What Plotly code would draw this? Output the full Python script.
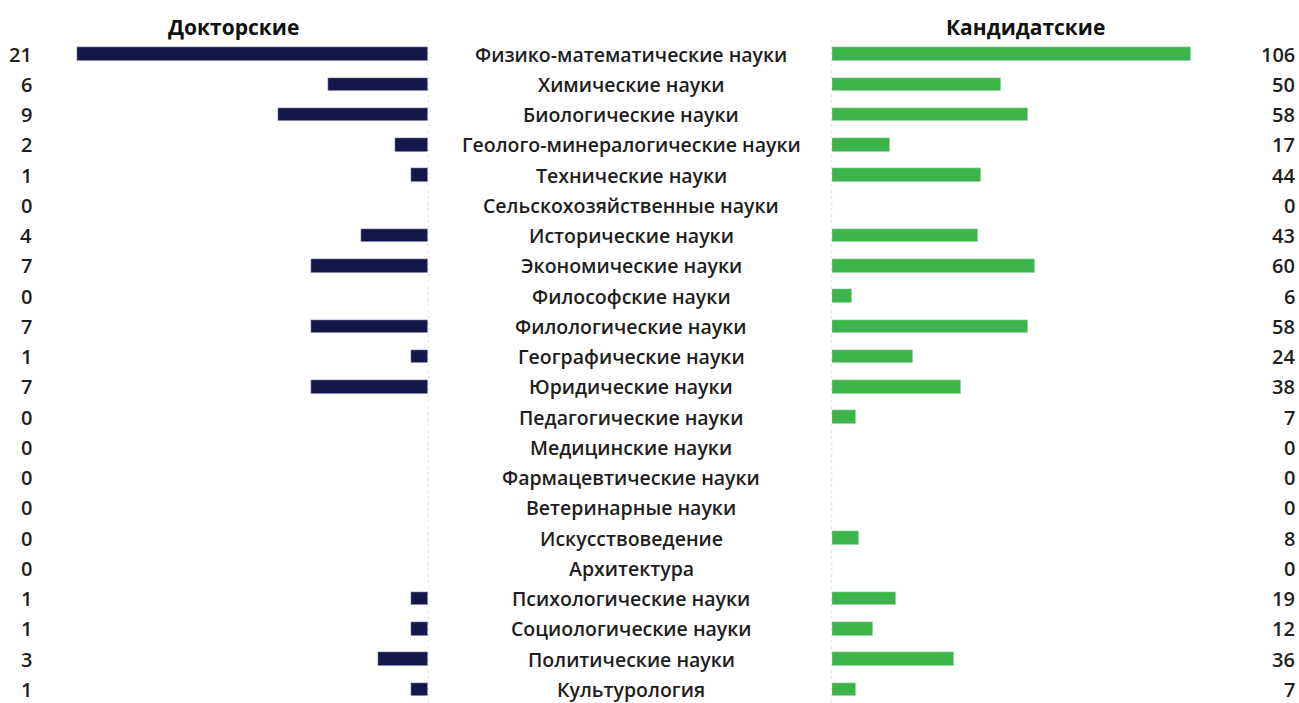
import plotly.graph_objects as go

categories = [
    "Физико-математические науки", "Химические науки", "Биологические науки",
    "Геолого-минералогические науки", "Технические науки", "Сельскохозяйственные науки",
    "Исторические науки", "Экономические науки", "Философские науки",
    "Филологические науки", "Географические науки", "Юридические науки",
    "Педагогические науки", "Медицинские науки", "Фармацевтические науки",
    "Ветеринарные науки", "Искусствоведение", "Архитектура",
    "Психологические науки", "Социологические науки", "Политические науки",
    "Культурология",
]
doctoral = [21, 6, 9, 2, 1, 0, 4, 7, 0, 7, 1, 7, 0, 0, 0, 0, 0, 0, 1, 1, 3, 1]
candidate = [106, 50, 58, 17, 44, 0, 43, 60, 6, 58, 24, 38, 7, 0, 0, 0, 8, 0, 19, 12, 36, 7]

W, H = 1299, 703
ypos = list(range(len(categories)))
FONT = "Open Sans"
NAVY = "#15164a"
GREEN = "#3cb44a"

fig = go.Figure()
fig.add_trace(go.Bar(x=doctoral, y=ypos, orientation="h", marker_color=NAVY,
                     width=0.44, xaxis="x", yaxis="y", showlegend=False))
fig.add_trace(go.Bar(x=candidate, y=ypos, orientation="h", marker_color=GREEN,
                     width=0.44, xaxis="x2", yaxis="y", showlegend=False))

top = 39
plot_h = H - top
row_h = 30.25
span = plot_h / row_h

ann = []
for i, (c, d, k) in enumerate(zip(categories, doctoral, candidate)):
    ann.append(dict(x=631 / W, y=i, xref="paper", yref="y", text=c, showarrow=False,
                    xanchor="center", yanchor="middle",
                    font=dict(family=FONT, size=19.5, color="#1e1e1e", weight=600)))
    ann.append(dict(x=34 / W, y=i, xref="paper", yref="y", text=str(d), showarrow=False,
                    xanchor="right", yanchor="middle",
                    font=dict(family=FONT, size=20, color="#1e1e1e", weight=600)))
    ann.append(dict(x=1297 / W, y=i, xref="paper", yref="y", text=str(k), showarrow=False,
                    xanchor="right", yanchor="middle",
                    font=dict(family=FONT, size=20, color="#1e1e1e", weight=600)))
title_y = 1 + (top - 27) / plot_h
ann.append(dict(x=233 / W, y=title_y, xref="paper", yref="paper", text="<b>Докторские</b>",
                showarrow=False, xanchor="center", yanchor="middle",
                font=dict(family=FONT, size=21, color="#111")))
ann.append(dict(x=1025 / W, y=title_y, xref="paper", yref="paper", text="<b>Кандидатские</b>",
                showarrow=False, xanchor="center", yanchor="middle",
                font=dict(family=FONT, size=21, color="#111")))

fig.update_layout(
    width=W, height=H,
    margin=dict(l=0, r=0, t=top, b=0),
    paper_bgcolor="white", plot_bgcolor="white",
    bargap=0,
    xaxis=dict(domain=[0, 428 / W], range=[428 / 16.72, 0], visible=False, fixedrange=True),
    xaxis2=dict(domain=[832 / W, 1], range=[0, (W - 832) / 3.387], visible=False, fixedrange=True),
    yaxis=dict(range=[span - 0.5, -0.5], visible=False, fixedrange=True),
    annotations=ann,
    shapes=[
        dict(type="line", xref="paper", yref="paper", x0=428.5 / W, x1=428.5 / W, y0=0, y1=1,
             line=dict(color="#e6e6e6", width=1, dash="dot"), layer="below"),
        dict(type="line", xref="paper", yref="paper", x0=831.5 / W, x1=831.5 / W, y0=0, y1=1,
             line=dict(color="#e6e6e6", width=1, dash="dot"), layer="below"),
    ],
)
fig.write_html("out.html")
